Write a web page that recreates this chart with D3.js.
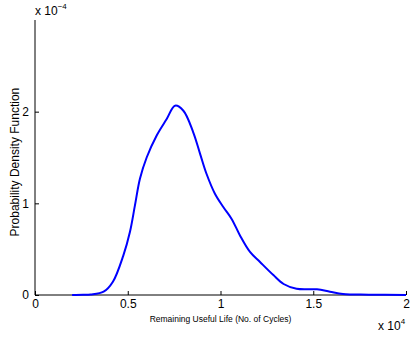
<!DOCTYPE html>
<html>
<head>
<meta charset="utf-8">
<script src="https://cdn.jsdelivr.net/npm/d3@7"></script>
<style>
  body { margin: 0; background: #fff; }
  svg { display: block; font-family: "Liberation Sans", Arial, sans-serif; }
</style>
</head>
<body>
<svg id="chart" width="411" height="337"></svg>
<script>
// RUL in units of 1e4 cycles, PDF in units of 1e-4
const rul = [0.2, 0.26, 0.30, 0.37, 0.42, 0.476, 0.512, 0.539, 0.566, 0.602, 0.656, 0.71, 0.755, 0.80, 0.853, 0.89, 0.925, 0.97, 1.015, 1.06, 1.105, 1.159, 1.213, 1.285, 1.34, 1.41, 1.52, 1.59, 1.66, 1.80, 2.0];
const pdf = [0, 0.002, 0.006, 0.036, 0.145, 0.43, 0.69, 0.98, 1.27, 1.50, 1.74, 1.92, 2.065, 2.01, 1.775, 1.54, 1.32, 1.105, 0.96, 0.83, 0.65, 0.47, 0.36, 0.217, 0.12, 0.068, 0.062, 0.036, 0.011, 0.004, 0];
const xTicks = [0, 0.5, 1, 1.5, 2];
const yTicks = [0, 1, 2];

const width = 411;
const height = 337;
const margin = { top: 20, right: 5, bottom: 42, left: 35 };

const svg = d3.select("#chart");

const x = d3.scaleLinear().domain([0, 2]).range([margin.left, width - margin.right]);
const y = d3.scaleLinear().domain([0, 3]).range([height - margin.bottom, margin.top]);

// axes: ticks pointing inwards, like matlab
const xAxis = svg.append("g")
  .attr("transform", `translate(0,${y(0)})`)
  .call(d3.axisBottom(x).tickValues(xTicks).tickSize(-4).tickPadding(6).tickFormat(d3.format("")));
xAxis.select(".domain").attr("d", `M${x(0)},0H${x(2)}`);

const yAxis = svg.append("g")
  .attr("transform", `translate(${x(0)},0)`)
  .call(d3.axisLeft(y).tickValues(yTicks).tickSize(-4).tickPadding(6).tickFormat(d3.format("d")));
yAxis.select(".domain").attr("d", `M0,${y(3)}V${y(0)}`);

svg.selectAll(".tick text").attr("font-size", 12).attr("fill", "#000")
  .attr("font-family", "Liberation Sans, Arial, sans-serif");
svg.selectAll(".domain, .tick line").attr("stroke", "#000");
xAxis.selectAll(".tick text").attr("dy", "0.6em");

// exponent labels
const expTop = svg.append("text").attr("x", x(0)).attr("y", 15).attr("font-size", 12);
expTop.append("tspan").text("x 10");
expTop.append("tspan").attr("dy", -6).attr("font-size", 8).text("\u22124");

const expBot = svg.append("text").attr("x", 378).attr("y", 330).attr("font-size", 12);
expBot.append("tspan").text("x 10");
expBot.append("tspan").attr("dy", -6).attr("font-size", 8).text("4");

// axis titles
svg.append("text")
  .attr("x", (x(0) + x(2)) / 2)
  .attr("y", 322)
  .attr("text-anchor", "middle")
  .attr("font-size", 8.5)
  .text("Remaining Useful Life (No. of Cycles)");

svg.append("text")
  .attr("transform", `translate(19,${y(1.45)}) rotate(-90)`)
  .attr("text-anchor", "middle")
  .attr("font-size", 12)
  .text("Probability Density Function");

// pdf curve
const line = d3.line()
  .x((d, i) => x(rul[i]))
  .y(d => y(Math.max(0, d)))
  .curve(d3.curveCatmullRom.alpha(0.5));

svg.append("path")
  .datum(pdf)
  .attr("fill", "none")
  .attr("stroke", "#0000ff")
  .attr("stroke-width", 2)
  .attr("d", line);
</script>
</body>
</html>
